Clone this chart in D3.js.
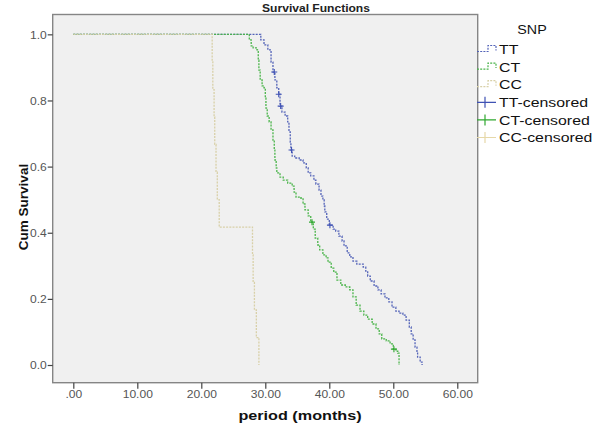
<!DOCTYPE html>
<html>
<head>
<meta charset="utf-8">
<script src="https://cdn.jsdelivr.net/npm/d3@7"></script>
<style>
  body { margin: 0; background: #fff; }
  svg { display: block; font-family: "Liberation Sans", Arial, sans-serif; }
</style>
</head>
<body>
<svg width="600" height="428"></svg>
<script>
const groups = ["TT", "CT", "CC"];
const legendLabels = ["TT", "CT", "CC", "TT-censored", "CT-censored", "CC-censored"];
const xTicks = [0, 10, 20, 30, 40, 50, 60];
const yTicks = [0, 0.2, 0.4, 0.6, 0.8, 1.0];

// event times (months) and survival right after each step
const ttTimes = [29.3, 29.8, 30.4, 30.9, 31.2, 31.5, 31.8, 32.1, 32.3, 32.6, 33.1, 33.5, 33.7, 33.9, 34.0,
  34.2, 34.6, 35.3, 35.9, 36.4, 36.7, 37.1, 37.6, 37.9, 38.4, 38.7, 39.0, 39.2, 39.3, 39.6, 40.0, 40.6,
  41.0, 41.5, 42.0, 42.3, 42.8, 43.2, 43.7, 44.3, 45.3, 45.7, 46.0, 46.4, 47.0, 47.6, 48.1, 48.7, 49.3,
  49.8, 50.4, 50.9, 51.5, 52.0, 52.5, 52.8, 53.1, 53.4, 53.7, 53.8, 54.2, 54.5];
const ttSurv = [.983, .968, .953, .916, .886, .862, .838, .819, .783, .765, .753, .735, .705, .674, .650,
  .632, .626, .620, .611, .596, .581, .572, .559, .547, .529, .511, .499, .481, .463, .441, .423, .411,
  .405, .390, .375, .360, .339, .327, .314, .305, .296, .284, .269, .254, .239, .227, .215, .203, .191,
  .175, .163, .157, .151, .136, .115, .094, .076, .054, .039, .024, .009, 0];
const ttCensored = [31.4, 32.1, 32.4, 34.1, 40.1];

const ctTimes = [27.5, 27.8, 28.1, 28.7, 28.9, 29.0, 29.2, 29.5, 29.8, 30.0, 30.1, 30.3, 30.6, 30.9, 31.2,
  31.4, 31.5, 31.7, 31.8, 32.3, 32.8, 33.5, 34.2, 34.5, 34.8, 35.4, 35.9, 36.2, 36.7, 37.1, 37.5, 37.8,
  38.2, 38.5, 39.0, 39.5, 39.8, 40.3, 40.7, 41.2, 41.8, 42.5, 43.2, 43.7, 44.2, 44.8, 45.4, 46.0, 46.7,
  47.3, 47.8, 48.2, 48.9, 49.5, 50.0, 50.4, 50.7, 50.9];
const ctSurv = [.983, .965, .959, .953, .922, .892, .862, .844, .838, .807, .777, .753, .735, .711, .680,
  .650, .620, .596, .581, .568, .559, .550, .541, .523, .508, .505, .487, .469, .451, .432, .411, .384,
  .363, .348, .333, .324, .311, .293, .281, .257, .242, .236, .227, .206, .181, .163, .151, .139, .124,
  .109, .094, .079, .073, .064, .048, .042, .036, 0];
const ctCensored = [37.3, 50.1];

const ccTimes = [21.7, 21.8, 22.0, 22.1, 22.3, 22.5, 22.8, 28.0, 28.1, 28.3, 28.6, 29.0];
const ccSurv = [.917, .833, .750, .667, .583, .500, .417, .333, .250, .167, .083, 0];
const ccCensored = [];

const colors = ["#5363b8", "#4ab44a", "#d8d0a8"];
const crossColors = ["#3f52b4", "#2fa82f", "#e6d8a8"];

const series = [
  { times: ttTimes, surv: ttSurv, censored: ttCensored },
  { times: ctTimes, surv: ctSurv, censored: ctCensored },
  { times: ccTimes, surv: ccSurv, censored: ccCensored }
];

const svg = d3.select("svg");

// plot frame
const plotLeft = 52.7, plotRight = 477.7, plotTop = 14.5, plotBottom = 382.7;
const x = d3.scaleLinear().domain([-3.22, 63.19]).range([plotLeft, plotRight]);
const y = d3.scaleLinear().domain([-0.0535, 1.06]).range([plotBottom, plotTop]);

svg.append("rect")
  .attr("x", plotLeft).attr("y", plotTop)
  .attr("width", plotRight - plotLeft).attr("height", plotBottom - plotTop)
  .attr("fill", "#f0f0f0")
  .attr("stroke", "#858585")
  .attr("stroke-width", 1.4);

// stretched text helper (the original image is widened horizontally)
function label(g, px, py, str, sx) {
  return g.append("text")
    .attr("transform", `translate(${px},${py}) scale(${sx},1)`)
    .text(str);
}

// axes
const xAxis = svg.append("g")
  .attr("transform", `translate(0,${plotBottom})`)
  .call(d3.axisBottom(x).tickValues(xTicks).tickSize(6).tickSizeOuter(0)
    .tickFormat((d) => d === 0 ? ".00" : d3.format(".2f")(d)));
xAxis.select(".domain").remove();
xAxis.selectAll(".tick line").attr("stroke", "#444").attr("stroke-width", 1.2);
xAxis.selectAll(".tick text")
  .attr("y", 0).attr("dy", 0)
  .attr("transform", "translate(0,15.5) scale(1.15,1)")
  .attr("font-size", 10.5).attr("fill", "#555");

const yAxis = svg.append("g")
  .attr("transform", `translate(${plotLeft},0)`)
  .call(d3.axisLeft(y).tickValues(yTicks).tickSize(5).tickSizeOuter(0)
    .tickFormat(d3.format(".1f")));
yAxis.select(".domain").remove();
yAxis.selectAll(".tick line").attr("stroke", "#444").attr("stroke-width", 1.2);
yAxis.selectAll(".tick text")
  .attr("x", 0).attr("dy", "0.35em")
  .attr("transform", "translate(-6,0) scale(1.15,1)")
  .attr("font-size", 10.5).attr("fill", "#555");

// survival curves
const line = d3.line()
  .x((d) => x(d[0]))
  .y((d) => y(d[1]))
  .curve(d3.curveStepAfter);

const curves = svg.append("g");
series.forEach((s, i) => {
  const pts = [[0, 1]].concat(s.times.map((t, k) => [t, s.surv[k]]));
  curves.append("path")
    .attr("d", line(pts))
    .attr("fill", "none")
    .attr("stroke", colors[i])
    .attr("stroke-width", 1.3)
    .attr("stroke-dasharray", "2,1.2");
});

// censored marks
function survAt(s, t) {
  const k = d3.bisectRight(s.times, t) - 1;
  return k < 0 ? 1 : s.surv[k];
}
series.forEach((s, i) => {
  s.censored.forEach((t) => {
    const cx = x(t), cy = y(survAt(s, t));
    curves.append("path")
      .attr("d", `M${cx - 3},${cy}H${cx + 3}M${cx},${cy - 3}V${cy + 3}`)
      .attr("stroke", crossColors[i])
      .attr("stroke-width", 1.1);
  });
});

// titles
label(svg, 316, 11.5, "Survival Functions", 1.15)
  .attr("text-anchor", "middle").attr("font-weight", "bold").attr("font-size", 10.5)
  .attr("fill", "#222");

label(svg, 300, 420, "period (months)", 1.2)
  .attr("text-anchor", "middle").attr("font-weight", "bold").attr("font-size", 13.5)
  .attr("fill", "#111");

svg.append("text")
  .attr("transform", "translate(28,207) rotate(-90)")
  .attr("text-anchor", "middle").attr("font-weight", "bold").attr("font-size", 13.5)
  .attr("fill", "#111")
  .text("Cum Survival");

// legend
const legend = svg.append("g");
label(legend, 532, 34, "SNP", 1.1)
  .attr("text-anchor", "middle").attr("font-size", 13).attr("fill", "#111");

legendLabels.forEach((name, i) => {
  const cy = 49.5 + i * 17.6;
  if (i < 3) {
    legend.append("path")
      .attr("d", `M477,${cy + 2}H488V${cy - 4}H496V${cy + 1}`)
      .attr("fill", "none")
      .attr("stroke", colors[i])
      .attr("stroke-width", 1.2)
      .attr("stroke-dasharray", "2,1.2");
  } else {
    legend.append("path")
      .attr("d", `M477,${cy}H496M485,${cy - 5.5}V${cy + 5.5}`)
      .attr("stroke", crossColors[i - 3])
      .attr("stroke-width", 1.2);
  }
  label(legend, 499, cy + 4.6, name, 1.22)
    .attr("font-size", 13).attr("fill", "#111");
});
</script>
</body>
</html>
